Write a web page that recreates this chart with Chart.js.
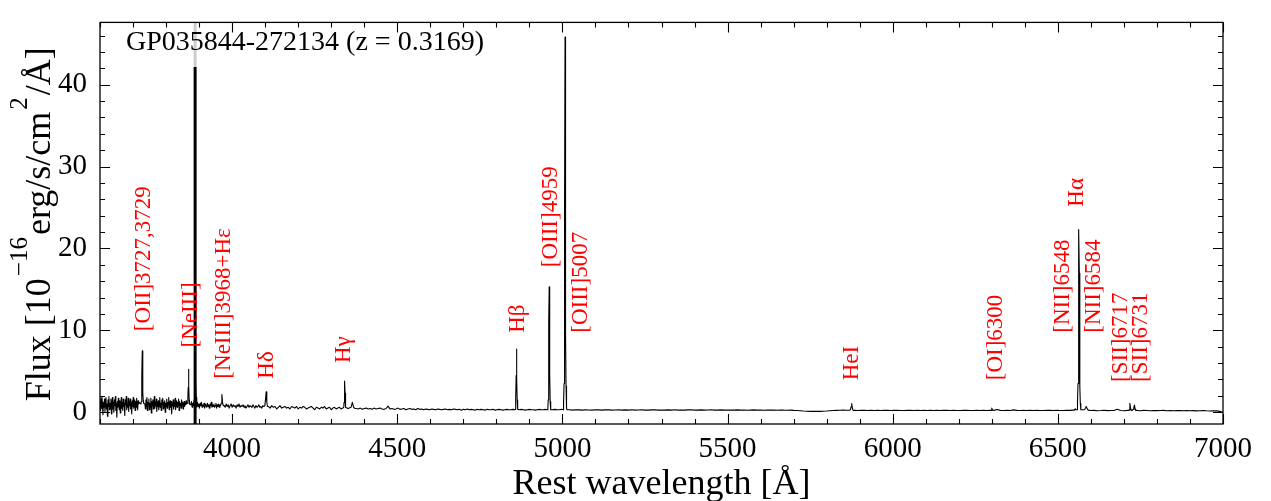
<!DOCTYPE html>
<html>
<head>
<meta charset="utf-8">
<title>GP035844-272134 spectrum</title>
<script src="https://cdn.jsdelivr.net/npm/chart.js@4.4.1/dist/chart.umd.min.js"></script>
<style>
  html, body { margin: 0; padding: 0; background: #fff; }
  #wrap { width: 1271px; height: 501px; }
</style>
</head>
<body>
<div id="wrap"><canvas id="spec" width="1271" height="501"></canvas></div>
<script>
// spectrum, in pieces: [first wavelength, step, flux values]
const segments = [
  [3600, 1.5, [1.4, 0.2, 1.7, 0.5, 1.9, 0.8, -0.3, 1.2, 0.6, 1.6, 0.1, 1.3, 1.8, 0.4, 1.0, -0.5, 1.5, 0.7, 1.9, 0.3,
               1.1, 0.5, 1.6, -0.2, 0.9, 1.8, 0.4, 1.2, 0.0, 1.5, 0.8, 1.9, 0.2, 1.1, -0.6, 1.3, 0.6, 1.7, 0.9, 0.3,
               1.4, -0.1, 1.0, 1.8, 0.5, 1.2, 0.2, 1.6, 0.7, 1.1, -0.4, 1.5, 0.9, 1.9, 0.3, 1.0, 0.6, 1.7, 0.1, 1.3,
               0.8, 1.6, 0.4, 1.2, -0.2, 1.4, 0.7, 1.8, 0.5, 1.0, 1.5, 0.2, 1.3, 0.6, 1.7, 0.9, 0.3, 1.4, 1.0, 1.2]],
  [3724, 1, [1.0, 1.3, 2.2, 4.5, 7.5, 5.0, 2.4, 1.4, 1.1]],        // [OII]
  [3736, 1.5, [1.0, 0.4, 1.5, 0.7, 1.8, 0.2, 1.2, 0.9, 1.6, 0.3, 1.1, 0.6, 1.7, -0.1, 1.3, 0.8, 1.5, 0.4, 1.0, 1.9,
               0.5, 1.2, 0.8, 1.6, 0.1, 1.3, 0.7, 1.4, 0.3, 1.0, 1.8, 0.6, 1.1, 0.2, 1.5, 0.9, 1.7, 0.4, 1.2, 0.6,
               1.4, 0.0, 1.1, 0.7, 1.6, 0.5, 1.2, 0.9, 1.8, 0.3, 1.0, 1.4, 0.6, 1.3, -0.2, 1.1, 0.8, 1.5, 0.4, 1.2,
               0.7, 1.7, 0.3, 1.0, 1.4, 0.6, 1.2, 0.9, 1.6, 0.2, 1.3, 0.8, 1.1, 0.5, 1.5, 0.9, 1.2, 0.4, 1.0, 1.3,
               0.7, 1.1, 0.9, 1.4, 1.0]],
  [3865, 1, [1.1, 1.6, 3.0, 5.25, 3.2, 1.5, 1.0]],                 // [NeIII]3869
  [3875, 2, [0.9, 1.3, 0.6, 1.1, 0.8, 1.5, 2.5, 4.0, 1.8, 0.6, 1.2, 0.7, 1.0, 0.5, 1.1, 0.8, 1.2, 0.6, 0.9, 0.7,
             1.1, 0.5, 1.0, 0.8, 0.6, 1.1, 0.7, 0.9, 0.5, 1.0, 0.8, 1.2, 0.6, 0.9, 0.7, 1.0, 0.6, 0.8, 1.1, 0.5,
             0.9, 0.7, 1.0, 0.6, 0.9, 0.8]],
  [3967, 2, [1.1, 2.15, 1.2, 0.8]],                                // [NeIII]3968+He
  [3976, 3, [0.8, 0.6, 1.0, 0.7, 0.9, 0.5, 0.8, 1.0, 0.6, 0.9, 0.7, 0.8, 0.5, 0.9, 0.7, 1.0, 0.6, 0.8, 0.7, 0.9,
             0.6, 0.8, 0.5, 0.7, 0.9, 0.6, 0.8, 0.7, 0.6, 0.9, 0.7, 0.5, 0.8, 0.6, 0.7, 0.9, 0.6, 0.7, 0.5, 0.8, 0.7]],
  [4099, 2, [0.8, 1.5, 2.5, 1.2, 0.7]],                            // Hd
  [4110, 5, [0.7, 0.5, 0.8, 0.6, 0.7, 0.4, 0.6, 0.8, 0.5, 0.6, 0.7, 0.5, 0.6, 0.4, 0.7, 0.6, 0.5, 0.7, 0.4, 0.6,
             0.5, 0.7, 0.6, 0.4, 0.5, 0.6, 0.7, 0.5, 0.3, 0.6, 0.5, 0.4, 0.6, 0.5, 0.7, 0.4, 0.5, 0.6, 0.3, 0.5,
             0.6, 0.4, 0.5, 0.6, 0.4, 0.5]],
  [4338, 1, [0.6, 1.2, 2.4, 3.8, 2.3, 1.0, 0.6]],                  // Hg
  [4348, 4, [0.5, 0.45, 0.55, 0.6, 1.2, 0.6, 0.45]],
  [4376, 6, [0.45, 0.4, 0.5, 0.35, 0.45, 0.5, 0.4, 0.45, 0.35, 0.5,
             0.4, 0.45, 0.5, 0.4, 0.35, 0.45, 0.75, 0.4, 0.45, 0.35,
             0.4, 0.5, 0.35, 0.4, 0.45, 0.3, 0.4, 0.45, 0.35, 0.4,
             0.3, 0.45, 0.35, 0.4, 0.3, 0.4, 0.35, 0.3, 0.4, 0.35,
             0.3, 0.4, 0.35, 0.3, 0.35, 0.4, 0.3, 0.35, 0.3, 0.4,
             0.35, 0.3, 0.35, 0.25, 0.35, 0.3, 0.4, 0.3, 0.35, 0.3,
             0.25, 0.35, 0.3, 0.35, 0.3, 0.25, 0.35, 0.3, 0.3, 0.35,
             0.25, 0.3, 0.35, 0.3, 0.25, 0.3, 0.35, 0.3, 0.3, 0.35, 0.3]],
  [4857, 1, [0.35, 0.6, 1.6, 4.5, 7.7, 4.2, 1.5, 0.6, 0.35]],      // Hb
  [4870, 6, [0.3, 0.35, 0.3, 0.25, 0.3, 0.35, 0.3, 0.3, 0.25, 0.3, 0.35, 0.3, 0.3, 0.35]],
  [4955, 1, [0.3, 0.5, 1.5, 5.0, 11.0, 15.3, 10.5, 4.5, 1.3, 0.5, 0.3]],             // [OIII]4959
  [4970, 7, [0.3, 0.35, 0.3, 0.3, 0.35]],
  [5002, 1, [0.3, 0.5, 1.2, 3.5, 10.0, 25.0, 45.8, 24.0, 9.5, 3.2, 1.1, 0.5, 0.3]],  // [OIII]5007
  [5020, 10, [0.3, 0.25, 0.3, 0.28, 0.25, 0.3, 0.27, 0.25, 0.3, 0.28,
              0.25, 0.28, 0.3, 0.25, 0.27, 0.3, 0.25, 0.28, 0.26, 0.3,
              0.25, 0.27, 0.3, 0.26, 0.25, 0.28, 0.3, 0.25, 0.27, 0.25,
              0.28, 0.26, 0.3, 0.25, 0.27, 0.25, 0.28, 0.3, 0.25, 0.26,
              0.28, 0.25, 0.27, 0.3, 0.25, 0.26, 0.28, 0.25, 0.27, 0.25,
              0.26, 0.28, 0.25, 0.27, 0.24, 0.26, 0.28, 0.25, 0.26, 0.24,
              0.27, 0.25, 0.26, 0.24, 0.27, 0.25, 0.24, 0.26, 0.22, 0.2,
              0.17, 0.14, 0.12, 0.1, 0.1, 0.11, 0.1, 0.12, 0.14, 0.17,
              0.2, 0.22, 0.24, 0.25, 0.24]],
  [5870, 2, [0.24, 0.3, 0.65, 1.05, 0.45, 0.22]],                  // HeI
  [5884, 10, [0.22, 0.2, 0.24, 0.22, 0.2, 0.23, 0.21, 0.24, 0.2, 0.22,
              0.23, 0.2, 0.22, 0.24, 0.21, 0.2, 0.23, 0.22, 0.2, 0.24,
              0.21, 0.22, 0.2, 0.23, 0.21, 0.22, 0.2, 0.24, 0.22, 0.2,
              0.23, 0.21, 0.2, 0.22, 0.24, 0.2, 0.21, 0.23, 0.2, 0.22, 0.21, 0.23]],
  [6298, 2, [0.22, 0.5, 0.28]],                                    // [OI]6300
  [6306, 10, [0.22, 0.32, 0.22, 0.2, 0.23, 0.21, 0.28, 0.22, 0.2, 0.23,
              0.21, 0.22, 0.2, 0.24, 0.21, 0.2, 0.22, 0.23, 0.2, 0.22, 0.21, 0.2, 0.23, 0.22, 0.25]],
  [6550, 2, [0.25, 0.4, 0.3]],                                     // [NII]6548
  [6558, 1, [0.3, 0.5, 1.3, 3.5, 9.0, 18.0, 22.3, 17.0, 8.5, 3.2, 1.1, 0.5, 0.3]],  // Ha
  [6580, 3, [0.3, 0.45, 0.7, 0.4, 0.25]],                          // [NII]6584
  [6600, 10, [0.2, 0.22, 0.18, 0.2, 0.23, 0.19, 0.2, 0.21, 0.35, 0.2, 0.18, 0.22]],
  [6716, 2, [0.25, 1.1, 0.5, 0.25, 0.22, 0.25, 0.35, 0.6, 0.87, 0.35, 0.2]],   // [SII]
  [6740, 10, [0.2, 0.18, 0.22, 0.2, 0.17, 0.21, 0.19, 0.2, 0.22, 0.18,
              0.2, 0.17, 0.19, 0.21, 0.18, 0.2, 0.17, 0.19, 0.16, 0.18,
              0.2, 0.17, 0.15, 0.18, 0.16, 0.1, 0.0]]
];

// emission line labels (text, wavelength of label centre, flux at label foot)
const lineNames  = ['[OII]3727,3729', '[NeIII]', '[NeIII]3968+H\u03b5', 'H\u03b4', 'H\u03b3', 'H\u03b2',
                    '[OIII]4959', '[OIII]5007', 'HeI', '[OI]6300', '[NII]6548', 'H\u03b1', '[NII]6584',
                    '[SII]6717', '[SII]6731'];
const lineLabelX = [3733, 3875, 3976, 4105, 4339, 4865, 4966, 5057, 5877, 6314, 6516, 6559, 6609, 6690, 6751];
const lineLabelY = [9.9, 7.9, 4.1, 4.1, 6.0, 9.7, 17.7, 9.7, 3.9, 3.9, 9.7, 25.1, 9.7, 3.7, 3.7];

const maskWave = 3888;                    // thick masked column
const xTicks = [4000, 4500, 5000, 5500, 6000, 6500, 7000];
const yTicks = [0, 10, 20, 30, 40];
const xRange = [3600, 7000];
const yRange = [-1.44, 47.6];
const titleText = 'GP035844-272134 (z = 0.3169)';

const SERIF = "'Liberation Serif', 'DejaVu Serif', serif";

const spectrum = [];
segments.forEach(([start, step, vals]) => {
  vals.forEach((v, i) => spectrum.push({ x: start + i * step, y: v }));
});

const decor = {
  id: 'decor',
  afterDatasetsDraw(chart) {
    const { ctx, scales: { x, y } } = chart;
    // title with half transparent box
    ctx.save();
    ctx.font = '28px ' + SERIF;
    const w = ctx.measureText(titleText).width;
    ctx.fillStyle = 'rgba(255,255,255,0.8)';
    ctx.fillRect(111, 15, w + 30, 52);
    ctx.fillStyle = '#000';
    ctx.textBaseline = 'alphabetic';
    ctx.fillText(titleText, 126, 50);

    // red line labels
    ctx.font = '23px ' + SERIF;
    ctx.fillStyle = '#ff0000';
    ctx.textAlign = 'left';
    ctx.textBaseline = 'middle';
    lineNames.forEach((name, i) => {
      ctx.save();
      ctx.translate(x.getPixelForValue(lineLabelX[i]), y.getPixelForValue(lineLabelY[i]));
      ctx.rotate(-Math.PI / 2);
      ctx.fillText(name, 0, 0);
      ctx.restore();
    });
    ctx.restore();
  },
  afterDraw(chart) {
    const { ctx, chartArea: a, scales: { x, y } } = chart;
    ctx.save();
    ctx.strokeStyle = '#000';
    ctx.lineWidth = 1.3;
    ctx.strokeRect(a.left, a.top, a.right - a.left, a.bottom - a.top);

    ctx.lineWidth = 1.1;
    ctx.beginPath();
    for (let v = 3600; v <= 7000; v += 100) {
      const px = Math.round(x.getPixelForValue(v)) + 0.5;
      const len = v % 500 === 0 ? 10 : 5;
      ctx.moveTo(px, a.bottom); ctx.lineTo(px, a.bottom - len);
      ctx.moveTo(px, a.top); ctx.lineTo(px, a.top + len);
    }
    for (let v = 0; v <= 46; v += 2) {
      const py = Math.round(y.getPixelForValue(v)) + 0.5;
      const len = v % 10 === 0 ? 10 : 5;
      ctx.moveTo(a.left, py); ctx.lineTo(a.left + len, py);
      ctx.moveTo(a.right, py); ctx.lineTo(a.right - len, py);
    }
    ctx.stroke();

    // x axis title
    ctx.fillStyle = '#000';
    ctx.font = '36px ' + SERIF;
    ctx.textAlign = 'center';
    ctx.textBaseline = 'alphabetic';
    ctx.fillText('Rest wavelength [\u00c5]', (a.left + a.right) / 2, 494);

    // y axis title with superscripts, drawn rotated
    const parts = [
      ['Flux [10', 36, 0],
      ['\u221216', 25, 23],
      ['erg/s/cm', 36, 0],
      ['2', 25, 23],
      ['/\u00c5]', 36, 0]
    ];
    let total = 0;
    parts.forEach(p => { ctx.font = p[1] + 'px ' + SERIF; p.push(ctx.measureText(p[0]).width + 2); total += p[3]; });
    ctx.translate(50, (a.top + a.bottom) / 2 + total / 2);
    ctx.rotate(-Math.PI / 2);
    ctx.textAlign = 'left';
    let cx = 0;
    parts.forEach(p => {
      ctx.font = p[1] + 'px ' + SERIF;
      ctx.fillText(p[0], cx, -p[2]);
      cx += p[3];
    });
    ctx.restore();
  }
};

new Chart(document.getElementById('spec'), {
  type: 'line',
  data: {
    datasets: [
      {
        data: [{ x: maskWave, y: yRange[0] }, { x: maskWave, y: yRange[1] }],
        borderColor: '#000',
        borderWidth: 3,
        pointRadius: 0
      },
      {
        data: spectrum,
        borderColor: '#000',
        borderWidth: 1.1,
        borderJoinStyle: 'round',
        pointRadius: 0,
        tension: 0
      }
    ]
  },
  options: {
    responsive: false,
    animation: false,
    layout: { padding: { left: 0, right: 48, top: 4, bottom: 0 } },
    plugins: { legend: { display: false }, tooltip: { enabled: false } },
    scales: {
      x: {
        type: 'linear',
        min: xRange[0],
        max: xRange[1],
        grid: { display: false },
        border: { display: false },
        ticks: { color: '#000', font: { family: SERIF, size: 29 }, padding: 0, maxRotation: 0, autoSkip: false,
                 callback: v => String(v) },
        afterBuildTicks: s => { s.ticks = xTicks.map(v => ({ value: v })); },
        afterFit: s => { s.height = 77; }
      },
      y: {
        type: 'linear',
        min: yRange[0],
        max: yRange[1],
        grid: { display: false },
        border: { display: false },
        ticks: { color: '#000', font: { family: SERIF, size: 29 }, padding: 5, autoSkip: false,
                 callback: v => String(v) },
        afterBuildTicks: s => { s.ticks = yTicks.map(v => ({ value: v })); },
        afterFit: s => { s.width = 100; }
      }
    }
  },
  plugins: [decor]
});
</script>
</body>
</html>
